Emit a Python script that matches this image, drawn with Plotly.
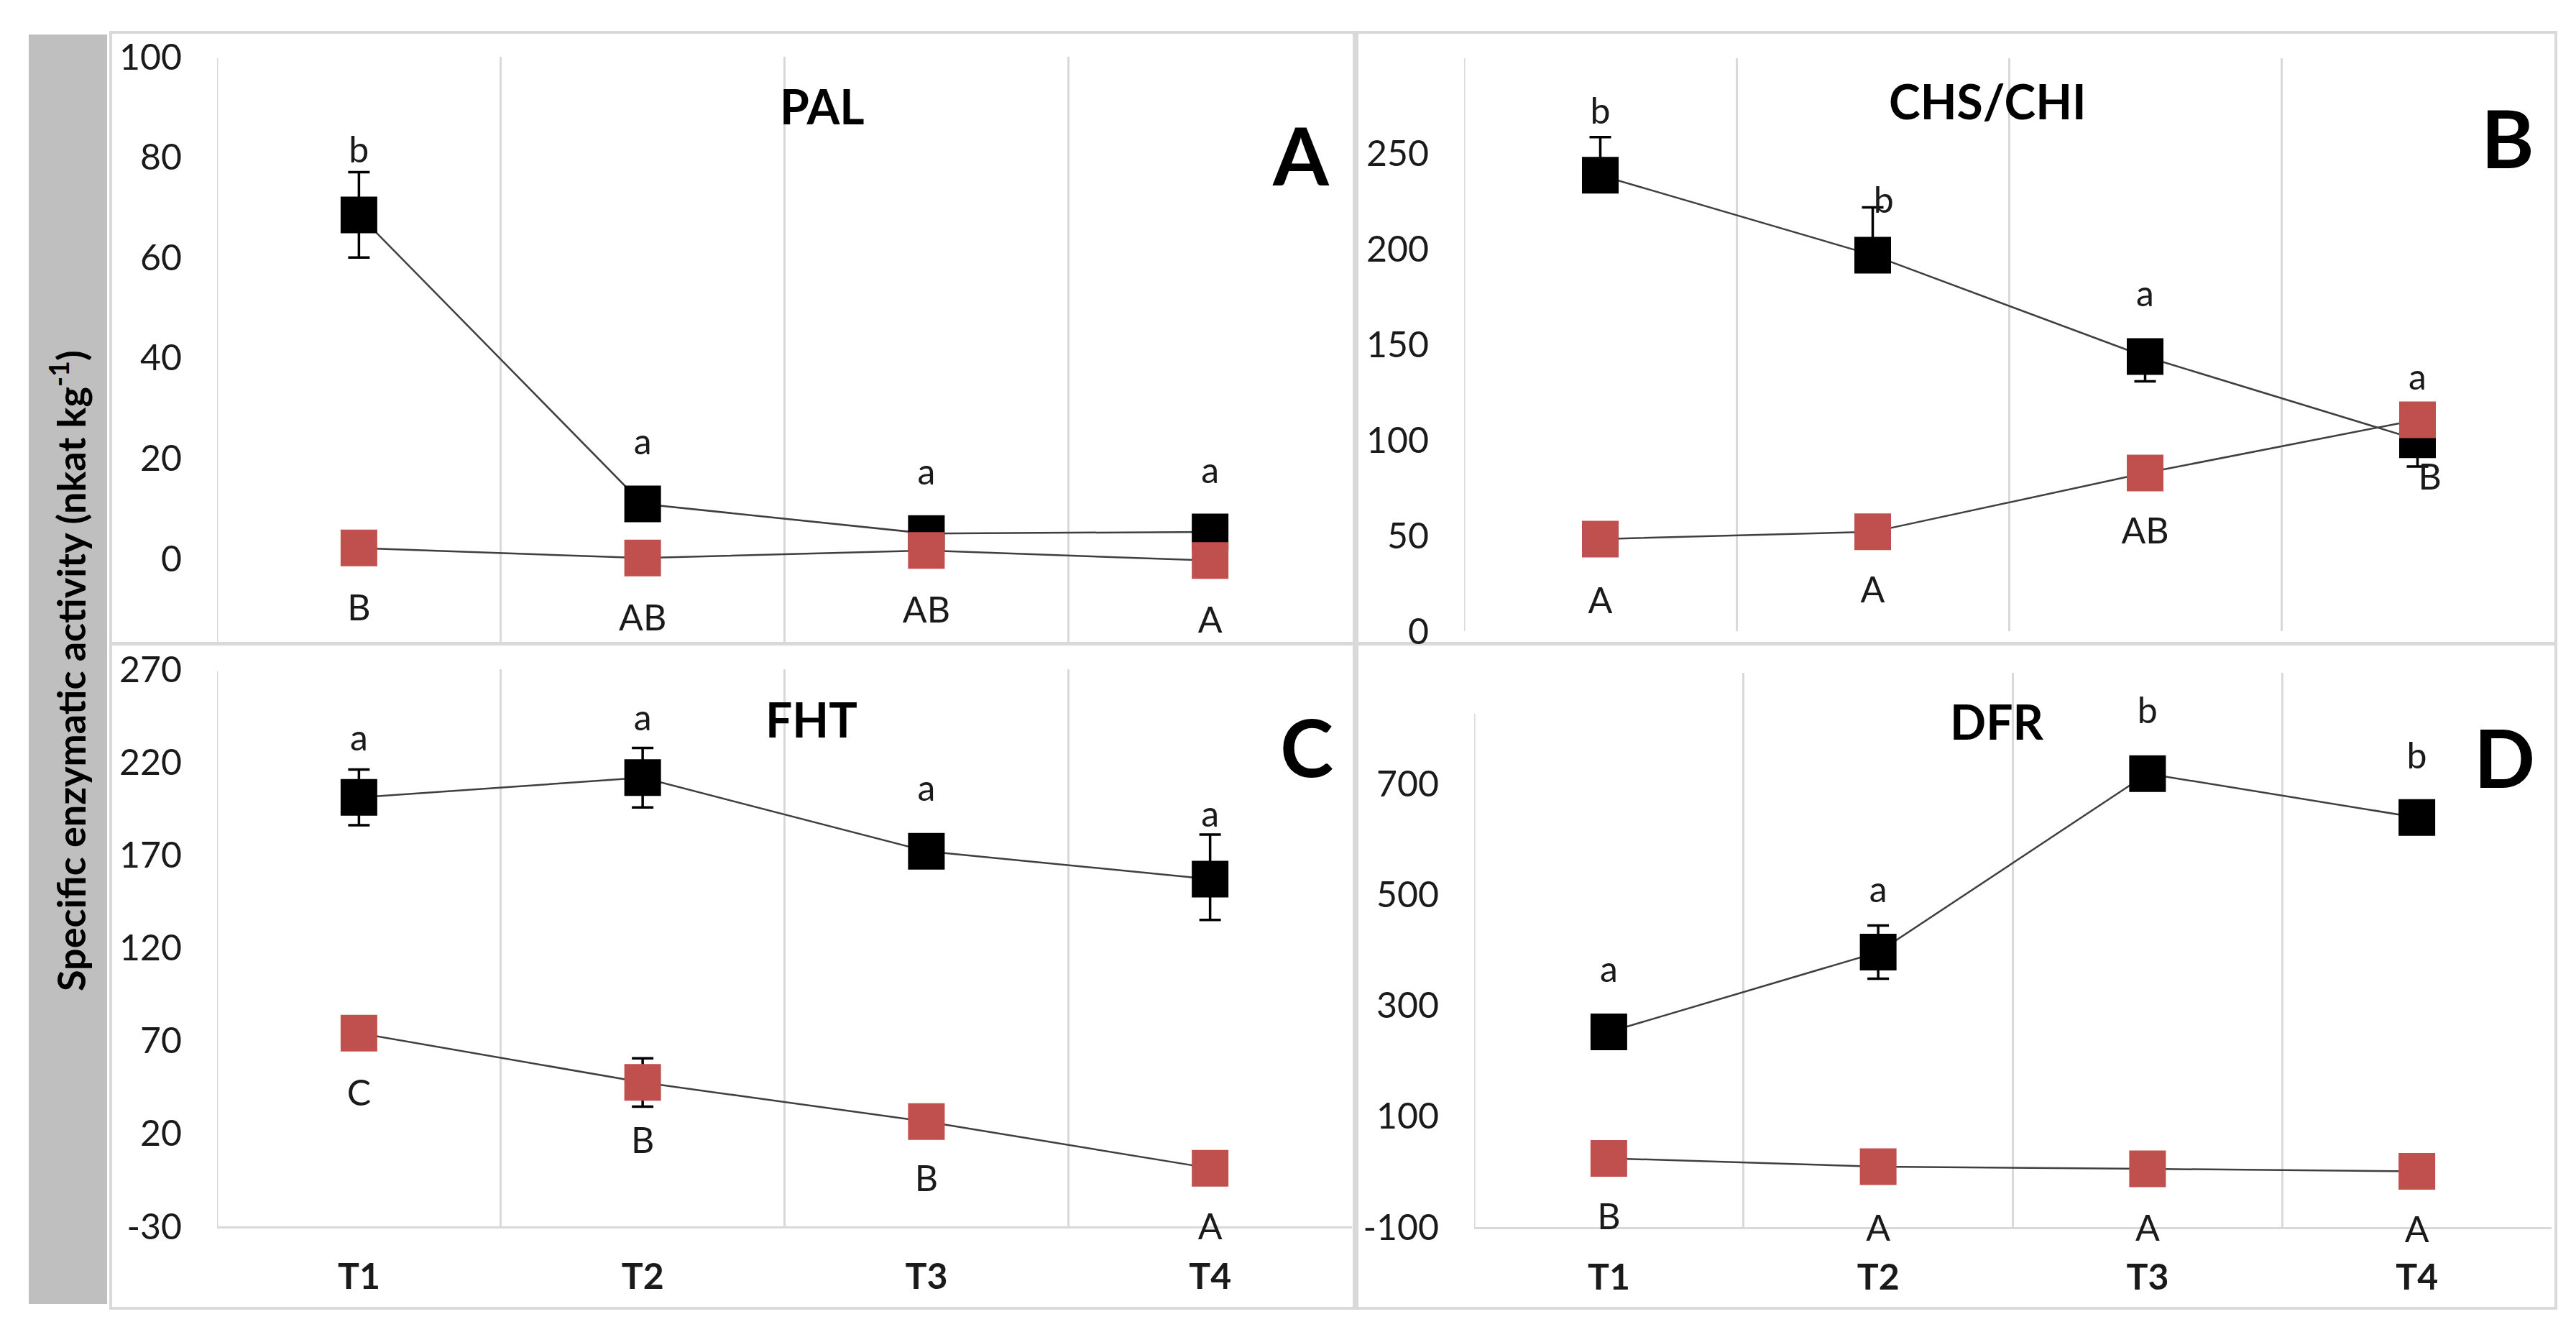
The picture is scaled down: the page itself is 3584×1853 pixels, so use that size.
import plotly.graph_objects as go

# ---------------- data ----------------
categories = ["T1", "T2", "T3", "T4"]

# PAL (panel A)
pal_black = [68.5, 10.9, 5.0, 5.3]
pal_black_err_plus = [8.5, 0, 0, 0]
pal_black_err_minus = [8.5, 0, 0, 0]
pal_red = [2.1, 0.1, 1.6, -0.4]
pal_red_err = [0, 0, 0, 0]
pal_black_letters = ["b", "a", "a", "a"]
pal_black_letter_y = [80.7, 22.5, 16.5, 16.9]
pal_red_letters = ["B", "AB", "AB", "A"]
pal_red_letter_y = [-10.5, -12.6, -10.9, -13.0]

# CHS/CHI (panel B)
chs_black = [238.7, 196.9, 143.8, 100.2]
chs_black_err_plus = [20, 25, 0, 0]
chs_black_err_minus = [0, 0, 13, 14]
chs_red = [48.2, 52.0, 82.8, 110.7]
chs_red_err = [0, 0, 0, 0]
chs_black_letters = ["b", "b", "a", "a"]
chs_black_letter_y = [270.5, 223.6, 174.7, 131.0]
chs_red_letters = ["A", "A", "AB", "B"]
chs_red_letter_y = [14.0, 19.6, 50.5, 79.0]

# FHT (panel C)
fht_black = [201.0, 211.6, 172.0, 157.0]
fht_black_err_plus = [15, 16, 7, 24]
fht_black_err_minus = [15, 16, 7, 22]
fht_red = [74.0, 47.5, 26.4, 1.3]
fht_red_err = [0, 13, 0, 0]
fht_black_letters = ["a", "a", "a", "a"]
fht_black_letter_y = [231, 242, 204, 190]
fht_red_letters = ["C", "B", "B", "A"]
fht_red_letter_y = [40, 14.5, -6, -32]

# DFR (panel D)
dfr_black = [252, 396, 718, 639]
dfr_black_err_plus = [0, 48, 0, 0]
dfr_black_err_minus = [0, 48, 0, 0]
dfr_red = [24, 9, 5, 0.4]
dfr_red_err = [0, 0, 0, 0]
dfr_black_letters = ["a", "a", "b", "b"]
dfr_black_letter_y = [359, 503, 825, 744]
dfr_red_letters = ["B", "A", "A", "A"]
dfr_red_letter_y = [-88, -108, -108, -111]

# ---------------- styling / layout ----------------
W, H = 3584, 1853
FONT = "Lato, 'Noto Sans', sans-serif"
GRID = "#d9d9d9"
RED = "#c0504d"
LINE = "#3f3f3f"
TXT = "#1a1a1a"
LETTER_PAD_PX = 60  # extra room below each plot area for the letters


def px(x):
    return x / W


def py(y):
    return 1 - y / H


panels = [
    dict(title="PAL", tag="A", black=pal_black, bep=pal_black_err_plus, bem=pal_black_err_minus,
         red=pal_red, rerr=pal_red_err,
         bl=pal_black_letters, bly=pal_black_letter_y, rl=pal_red_letters, rly=pal_red_letter_y,
         bdx=[0, 0, 0, 0], rdx=[0, 0, 0, 0],
         xdom=(294, 1873), ydom=(887, 71), yrange=(-16.9, 100), yticks=[0, 20, 40, 60, 80, 100],
         title_xy=(1136, 139), tag_xy=(1802, 206), show_x=False, left_top=73),
    dict(title="CHS/CHI", tag="B", black=chs_black, bep=chs_black_err_plus, bem=chs_black_err_minus,
         red=chs_red, rerr=chs_red_err,
         bl=chs_black_letters, bly=chs_black_letter_y, rl=chs_red_letters, rly=chs_red_letter_y,
         bdx=[0, 0.04, 0, 0], rdx=[0, 0, 0, 0.045],
         xdom=(2029, 3545), ydom=(870, 73), yrange=(0, 300), yticks=[0, 50, 100, 150, 200, 250],
         title_xy=(2757, 133), tag_xy=(3481, 182), show_x=False, left_top=73),
    dict(title="FHT", tag="C", black=fht_black, bep=fht_black_err_plus, bem=fht_black_err_minus,
         red=fht_red, rerr=fht_red_err,
         bl=fht_black_letters, bly=fht_black_letter_y, rl=fht_red_letters, rly=fht_red_letter_y,
         bdx=[0, 0, 0, 0], rdx=[0, 0, 0, 0],
         xdom=(294, 1873), ydom=(1698, 923), yrange=(-30, 270), yticks=[-30, 20, 70, 120, 170, 220, 270],
         title_xy=(1121, 992), tag_xy=(1810, 1029), show_x=True, left_top=926),
    dict(title="DFR", tag="D", black=dfr_black, bep=dfr_black_err_plus, bem=dfr_black_err_minus,
         red=dfr_red, rerr=dfr_red_err,
         bl=dfr_black_letters, bly=dfr_black_letter_y, rl=dfr_red_letters, rly=dfr_red_letter_y,
         bdx=[0, 0, 0, 0], rdx=[0, 0, 0, 0],
         xdom=(2043, 3542), ydom=(1699, 928), yrange=(-100, 900), yticks=[-100, 100, 300, 500, 700],
         title_xy=(2770, 995), tag_xy=(3476, 1044), show_x=True, left_top=985),
]

xpos = [i + 1 for i in range(len(categories))]
N = len(panels)

fig = go.Figure()
layout = dict(
    template="none",
    width=W, height=H, autosize=False,
    margin=dict(l=0, r=0, t=0, b=0, pad=0, autoexpand=False),
    paper_bgcolor="white", plot_bgcolor="rgba(0,0,0,0)",
    showlegend=False,
    font=dict(family=FONT, size=50, color=TXT),
)
annotations = []
shapes = []

# grey label bar
shapes.append(dict(type="rect", xref="paper", yref="paper",
                   x0=px(32), x1=px(141), y0=py(1806), y1=py(40),
                   fillcolor="#bfbfbf", line=dict(width=0), layer="below"))
# panel borders
for (x0, x1, y0, y1) in [(146, 1876, 37, 887), (1880, 3548, 37, 887),
                         (146, 1876, 888, 1812), (1880, 3548, 888, 1812)]:
    shapes.append(dict(type="rect", xref="paper", yref="paper",
                       x0=px(x0), x1=px(x1), y0=py(y1), y1=py(y0),
                       line=dict(color=GRID, width=4), fillcolor="rgba(0,0,0,0)", layer="below"))

for i, p in enumerate(panels, start=1):
    xa = "x" if i == 1 else f"x{i}"
    ya = "y" if i == 1 else f"y{i}"
    xkey = "xaxis" if i == 1 else f"xaxis{i}"
    ykey = "yaxis" if i == 1 else f"yaxis{i}"
    # companion axes (same scale, taller) used only for the significance letters
    li = i + N
    lxa, lya = f"x{li}", f"y{li}"
    lxkey, lykey = f"xaxis{li}", f"yaxis{li}"

    fig.add_trace(go.Scatter(
        x=xpos, y=p["black"], xaxis=xa, yaxis=ya, mode="lines+markers",
        line=dict(color=LINE, width=2.5),
        marker=dict(symbol="square", size=51, color="black", line=dict(width=0)),
        error_y=dict(type="data", symmetric=False, array=p["bep"], arrayminus=p["bem"],
                     color="black", thickness=3.5, width=15),
        cliponaxis=False,
    ))
    fig.add_trace(go.Scatter(
        x=xpos, y=p["red"], xaxis=xa, yaxis=ya, mode="lines+markers",
        line=dict(color=LINE, width=2.5),
        marker=dict(symbol="square", size=51, color=RED, line=dict(width=0)),
        error_y=dict(type="data", array=p["rerr"], color="black", thickness=3.5, width=15),
        cliponaxis=False,
    ))
    # significance letters
    fig.add_trace(go.Scatter(
        x=[xv + d for xv, d in zip(xpos, p["bdx"])], y=p["bly"], xaxis=lxa, yaxis=lya,
        mode="text", text=p["bl"], textposition="middle center",
        textfont=dict(family=FONT, size=50, color=TXT), cliponaxis=False, hoverinfo="skip",
    ))
    fig.add_trace(go.Scatter(
        x=[xv + d for xv, d in zip(xpos, p["rdx"])], y=p["rly"], xaxis=lxa, yaxis=lya,
        mode="text", text=p["rl"], textposition="middle center",
        textfont=dict(family=FONT, size=50, color=TXT), cliponaxis=False, hoverinfo="skip",
    ))

    xdomain = [px(p["xdom"][0]), px(p["xdom"][1])]
    layout[xkey] = dict(
        domain=xdomain, anchor=ya,
        range=[0.5, 4.5], tickmode="array", tickvals=xpos, ticktext=categories,
        showticklabels=p["show_x"], ticks="", showgrid=False, zeroline=False,
        tickfont=dict(family=FONT, size=50, color=TXT, weight="bold"),
        ticklabelstandoff=24, automargin=False,
        showline=p["show_x"], linecolor=GRID, linewidth=3,
        minor=dict(tickmode="array", tickvals=[1.5, 2.5, 3.5], showgrid=True,
                   gridcolor=GRID, gridwidth=3, ticks=""),
        fixedrange=True,
    )
    layout[ykey] = dict(
        domain=[py(p["ydom"][0]), py(p["ydom"][1])], anchor=xa,
        range=list(p["yrange"]), tickmode="array", tickvals=p["yticks"],
        ticktext=[str(v) for v in p["yticks"]],
        ticks="", showgrid=False, zeroline=False, showline=False,
        tickfont=dict(family=FONT, size=50, color=TXT),
        ticklabelstandoff=48, automargin=False,
        fixedrange=True,
    )

    # letter axes: same units per pixel, extended downward by LETTER_PAD_PX
    lo, hi = p["yrange"]
    bottom_px, top_px = p["ydom"]
    units_per_px = (hi - lo) / (bottom_px - top_px)
    layout[lxkey] = dict(domain=xdomain, anchor=lya, range=[0.5, 4.5], visible=False,
                         showgrid=False, zeroline=False, fixedrange=True, automargin=False)
    layout[lykey] = dict(domain=[py(bottom_px + LETTER_PAD_PX), py(top_px)], anchor=lxa,
                         range=[lo - LETTER_PAD_PX * units_per_px, hi], visible=False,
                         showgrid=False, zeroline=False, fixedrange=True, automargin=False)

    # left edge line of the plot area
    shapes.append(dict(type="line", xref=xa, yref="paper", x0=0.5, x1=0.5,
                       y0=py(p["ydom"][0]), y1=py(p["left_top"]),
                       line=dict(color=GRID, width=3), layer="below"))

    # title and panel tag
    annotations.append(dict(x=px(p["title_xy"][0]), y=py(p["title_xy"][1]), xref="paper", yref="paper",
                            xanchor="center", yanchor="middle",
                            text=f"<b>{p['title']}</b>", showarrow=False,
                            font=dict(family=FONT, size=66, color="black")))
    annotations.append(dict(x=px(p["tag_xy"][0]), y=py(p["tag_xy"][1]), xref="paper", yref="paper",
                            xanchor="center", yanchor="middle",
                            text=f"<b>{p['tag']}</b>", showarrow=False,
                            font=dict(family=FONT, size=112, color="black")))

# y axis label
annotations.append(dict(x=px(87), y=py(925), xref="paper", yref="paper",
                        xanchor="center", yanchor="middle",
                        text="<b>Specific enzymatic activity (nkat kg<sup>-1</sup>)</b>",
                        textangle=-90, showarrow=False,
                        font=dict(family=FONT, size=54, color="black")))

layout["annotations"] = annotations
layout["shapes"] = shapes
fig.update_layout(**layout)

fig.write_html("out.html", config={"displayModeBar": False})
